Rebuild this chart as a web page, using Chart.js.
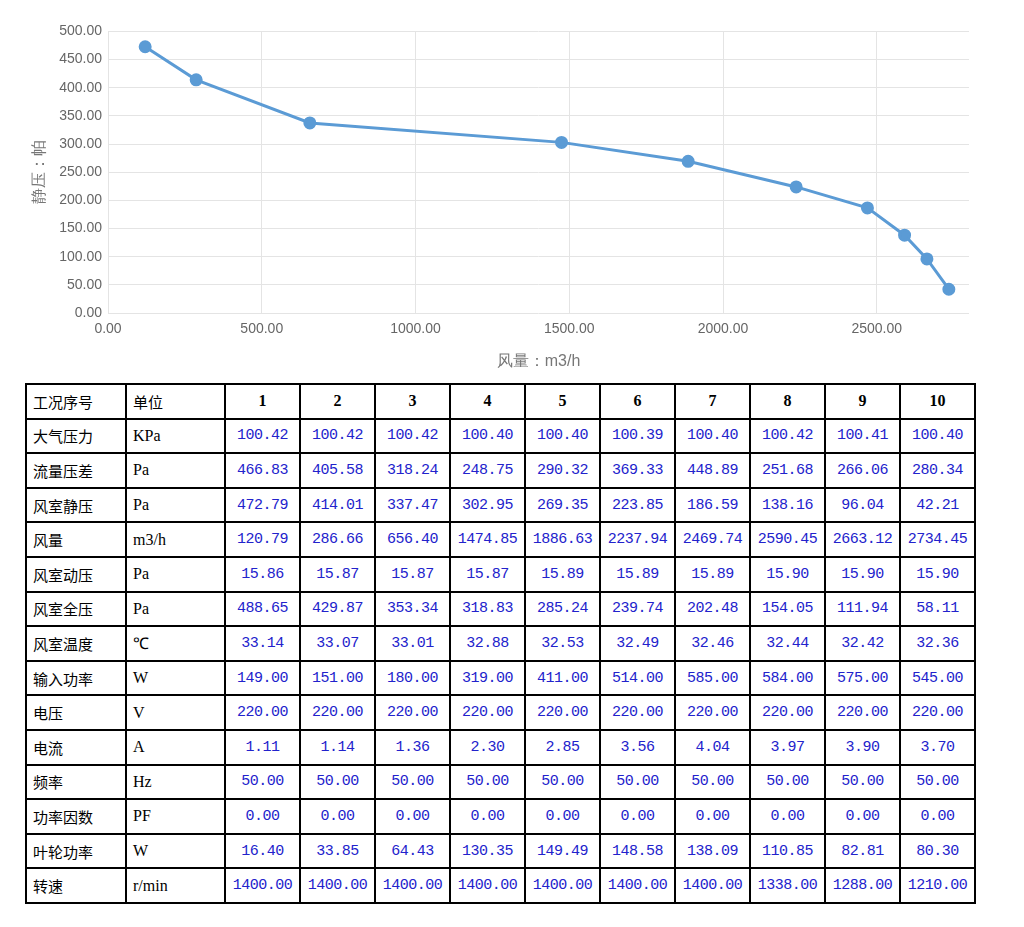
<!DOCTYPE html>
<html><head><meta charset="utf-8">
<script src="https://cdn.jsdelivr.net/npm/chart.js@4"></script>
<style>
body{margin:0;background:#fff;width:1024px;height:927px;overflow:hidden;font-family:"Noto Sans CJK SC";}
#c{position:absolute;left:0;top:17px;width:977px;height:358px;}
table{position:absolute;left:25px;top:383px;border-collapse:collapse;}
td{border:2px solid #000;height:32.6px;padding:0;font-size:15px;}
td.l{padding-left:6px;color:#000;text-align:left;}
td.u{font-family:"Liberation Serif";font-size:16px;}
td.v{color:#2222cc;text-align:center;font-family:"Liberation Mono","DejaVu Sans Mono";letter-spacing:-0.5px;}
td.h{font-family:"Liberation Serif";font-weight:bold;text-align:center;font-size:16px;}
</style></head><body>
<div id="c"><canvas id="cv"></canvas></div>
<table id="t"></table>
<script>
const rowLabels=["工况序号","大气压力","流量压差","风室静压","风量","风室动压","风室全压","风室温度","输入功率","电压","电流","频率","功率因数","叶轮功率","转速"];
const units=["单位","KPa","Pa","Pa","m3/h","Pa","Pa","℃","W","V","A","Hz","PF","W","r/min"];
const atm=["100.42","100.42","100.42","100.40","100.40","100.39","100.40","100.42","100.41","100.40"];
const flowDiff=["466.83","405.58","318.24","248.75","290.32","369.33","448.89","251.68","266.06","280.34"];
const staticP=[472.79,414.01,337.47,302.95,269.35,223.85,186.59,138.16,96.04,42.21];
const airflow=[120.79,286.66,656.40,1474.85,1886.63,2237.94,2469.74,2590.45,2663.12,2734.45];
const dynP=["15.86","15.87","15.87","15.87","15.89","15.89","15.89","15.90","15.90","15.90"];
const totalP=["488.65","429.87","353.34","318.83","285.24","239.74","202.48","154.05","111.94","58.11"];
const temp=["33.14","33.07","33.01","32.88","32.53","32.49","32.46","32.44","32.42","32.36"];
const power=["149.00","151.00","180.00","319.00","411.00","514.00","585.00","584.00","575.00","545.00"];
const volt=Array(10).fill("220.00");
const amp=["1.11","1.14","1.36","2.30","2.85","3.56","4.04","3.97","3.90","3.70"];
const freq=Array(10).fill("50.00");
const pf=Array(10).fill("0.00");
const impeller=["16.40","33.85","64.43","130.35","149.49","148.58","138.09","110.85","82.81","80.30"];
const speed=["1400.00","1400.00","1400.00","1400.00","1400.00","1400.00","1400.00","1338.00","1288.00","1210.00"];
const xTicks=[0,500,1000,1500,2000,2500];

const rows=[[1,2,3,4,5,6,7,8,9,10],atm,flowDiff,staticP.map(v=>v.toFixed(2)),airflow.map(v=>v.toFixed(2)),dynP,totalP,temp,power,volt,amp,freq,pf,impeller,speed];
let html="";
rows.forEach((r,i)=>{
  html+="<tr><td class='l' style='width:92px'>"+rowLabels[i]+"</td><td class='l"+(i>0?" u":"")+"' style='width:91px'>"+units[i]+"</td>";
  r.forEach(v=>html+="<td class='"+(i==0?"h":"v")+"' style='width:73px'>"+v+"</td>");
  html+="</tr>";
});
document.getElementById('t').innerHTML=html;

new Chart(document.getElementById('cv'),{type:'scatter',
data:{datasets:[{data:airflow.map((x,i)=>({x,y:staticP[i]})),showLine:true,borderColor:'#5b9bd5',backgroundColor:'#5b9bd5',borderWidth:3,pointRadius:5,tension:0}]},
options:{responsive:true,maintainAspectRatio:false,animation:false,
plugins:{legend:{display:false},tooltip:{enabled:false}},
layout:{padding:{left:26,right:0,top:10}},
scales:{
x:{min:0,max:2800,afterBuildTicks:a=>{a.ticks=xTicks.map(v=>({value:v}));},
ticks:{color:'#666',font:{size:14},callback:v=>v.toFixed(2),padding:8},grid:{color:'#e4e4e4',drawTicks:false},border:{display:false},
title:{display:true,text:'风量：m3/h',color:'#777',font:{size:16},padding:{top:6}}},
y:{min:0,max:500,ticks:{stepSize:50,color:'#666',font:{size:14},callback:v=>v.toFixed(2),padding:6},grid:{color:'#e4e4e4',drawTicks:false},border:{display:false},
title:{display:true,text:'静压：帕',color:'#777',font:{size:16}}}}}});
</script></body></html>
